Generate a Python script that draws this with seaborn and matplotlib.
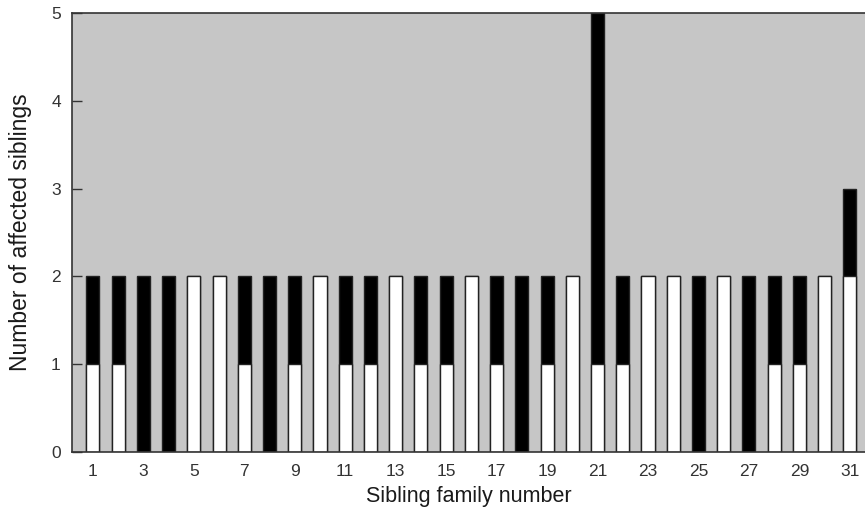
import matplotlib
import matplotlib.pyplot as plt
import pandas as pd
import seaborn as sns

matplotlib.use('agg')

# affected siblings per family: lower (white) and upper (black) segment
families = list(range(1, 32))
white_count = [1, 1, 0, 0, 2, 2, 1, 0, 1, 2, 1, 1, 2, 1, 1, 2,
               1, 0, 1, 2, 1, 1, 2, 2, 0, 2, 0, 1, 1, 2, 2]
black_count = [1, 1, 2, 2, 0, 0, 1, 2, 1, 0, 1, 1, 0, 1, 1, 0,
               1, 2, 1, 0, 4, 1, 0, 0, 2, 0, 2, 1, 1, 0, 1]
tick_labels = [str(n) for n in families if n % 2 == 1]

df = pd.DataFrame({'family': families, 'white': white_count, 'black': black_count})
df['total'] = df['white'] + df['black']

sns.set_style('white')
plt.rcParams['font.family'] = ['Liberation Sans', 'DejaVu Sans']

fig = plt.figure(figsize=(8.65, 5.11), dpi=100)
ax = fig.add_axes([0.0832, 0.1155, 0.9168, 0.8591])
ax.set_facecolor('#c6c6c6')

# stacked: draw totals in black, then the white part over it
sns.barplot(data=df, x='family', y='total', native_scale=True, width=0.52,
            color='black', edgecolor='#222222', linewidth=1, saturation=1, ax=ax)
sns.barplot(data=df, x='family', y='white', native_scale=True, width=0.52,
            color='white', edgecolor='#222222', linewidth=1, saturation=1, ax=ax)

ax.set_xlim(0.17, 31.6)
ax.set_ylim(0, 5)
ax.set_xticks([n for n in families if n % 2 == 1])
ax.set_xticklabels(tick_labels)
ax.set_yticks([0, 1, 2, 3, 4, 5])
ax.tick_params(axis='x', length=0, pad=9, labelsize=12.5, labelcolor='#333333')
ax.tick_params(axis='y', direction='in', length=7, width=1, color='#333333',
               pad=8, labelsize=12.5, labelcolor='#333333', left=True)

for side in ['left', 'bottom', 'top']:
    ax.spines[side].set_color('#333333')
    ax.spines[side].set_linewidth(1.2)
ax.spines['right'].set_visible(False)

ax.set_xlabel('Sibling family number', fontsize=15.5, color='#1a1a1a', labelpad=5)
ax.set_ylabel('Number of affected siblings', fontsize=16.5, color='#1a1a1a', labelpad=14)

plt.savefig('out.png', dpi=100)
